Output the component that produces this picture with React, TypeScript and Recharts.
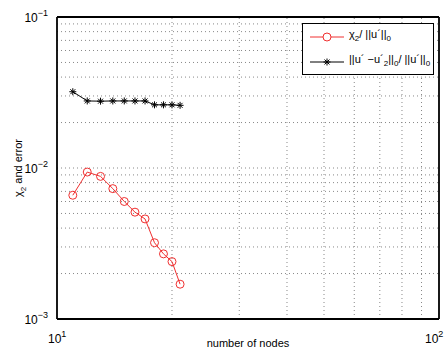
import { LineChart, Line, XAxis, YAxis, ReferenceLine } from 'recharts';

const nodes = [11, 12, 13, 14, 15, 16, 17, 18, 19, 20, 21];
const chiRatio = [0.0066, 0.0094, 0.0088, 0.0073, 0.006, 0.0051, 0.0046, 0.0032, 0.0027, 0.0024, 0.0017];
const errRatio = [0.032, 0.0278, 0.0277, 0.0278, 0.0278, 0.0278, 0.0278, 0.0262, 0.0262, 0.0262, 0.026];

const xTicks = [10, 100];
const yTicks = [0.001, 0.01, 0.1];
const xGrid = [20, 30, 40, 50, 60, 70, 80, 90];
const yGrid = [0.002, 0.003, 0.004, 0.005, 0.006, 0.007, 0.008, 0.009, 0.01, 0.02, 0.03, 0.04, 0.05, 0.06, 0.07, 0.08, 0.09];

const data = nodes.map((n, i) => ({ n, chi: chiRatio[i], err: errRatio[i] }));

const FONT = '"Liberation Sans", Arial, sans-serif';

const expOf = (v: number) => Math.round(Math.log10(v));

const XTick = ({ x, y, payload }: any) => (
  <text x={x - 9} y={y + 16} textAnchor="start" fontFamily={FONT} fontSize={12} fill="#000">
    <tspan>10</tspan>
    <tspan dy={-6} fontSize={9}>{expOf(payload.value)}</tspan>
  </text>
);

const YTick = ({ x, y, payload }: any) => {
  const e = expOf(payload.value);
  return (
    <text x={x - 1} y={y + 5} textAnchor="end" fontFamily={FONT} fontSize={12} fill="#000">
      <tspan>10</tspan>
      <tspan dy={-6} fontSize={9}>{e < 0 ? '\u2212' + Math.abs(e) : e}</tspan>
    </text>
  );
};

const Star = ({ cx, cy }: any) => {
  if (cx == null || cy == null) return null;
  const r = 3.5;
  const d = r * 0.707;
  return (
    <g stroke="#000" strokeWidth={1}>
      <line x1={cx - r} y1={cy} x2={cx + r} y2={cy} />
      <line x1={cx} y1={cy - r} x2={cx} y2={cy + r} />
      <line x1={cx - d} y1={cy - d} x2={cx + d} y2={cy + d} />
      <line x1={cx - d} y1={cy + d} x2={cx + d} y2={cy - d} />
    </g>
  );
};

const gridStyle = { stroke: '#888', strokeDasharray: '1 3', strokeWidth: 1 };

export default function App() {
  return (
    <div style={{ position: 'absolute', left: 0, top: 0, width: 446, height: 354, background: '#fff', overflow: 'hidden' }}>
      <LineChart width={446} height={354} data={data} margin={{ top: 17, right: 7, bottom: 0, left: 0 }}>
        <XAxis
          dataKey="n"
          type="number"
          scale="log"
          domain={[10, 100]}
          ticks={xTicks}
          tick={<XTick />}
          tickLine={false}
          axisLine={false}
          height={35}
          allowDataOverflow
        />
        <YAxis
          type="number"
          scale="log"
          domain={[0.001, 0.1]}
          ticks={yTicks}
          tick={<YTick />}
          tickLine={false}
          axisLine={false}
          width={57}
          allowDataOverflow
        />
        {xGrid.map((v) => (
          <ReferenceLine key={'vx' + v} x={v} {...gridStyle} />
        ))}
        {yGrid.map((v) => (
          <ReferenceLine key={'hy' + v} y={v} {...gridStyle} />
        ))}
        <ReferenceLine x={10} stroke="#000" strokeWidth={1.8} />
        <ReferenceLine x={100} stroke="#000" strokeWidth={1.8} />
        <ReferenceLine y={0.001} stroke="#000" strokeWidth={1.8} />
        <ReferenceLine y={0.1} stroke="#000" strokeWidth={1.8} />
        <Line
          dataKey="err"
          stroke="#000"
          strokeWidth={1}
          dot={<Star />}
          isAnimationActive={false}
        />
        <Line
          dataKey="chi"
          stroke="#f03030"
          strokeWidth={1}
          dot={{ r: 4, stroke: '#f03030', strokeWidth: 1, fill: 'none' }}
          isAnimationActive={false}
        />
      </LineChart>

      <div
        style={{
          position: 'absolute',
          left: 20,
          top: 168,
          transform: 'translate(-50%, -50%) rotate(-90deg)',
          fontFamily: FONT,
          fontSize: 11,
          whiteSpace: 'nowrap',
        }}
      >
        χ<sub style={{ fontSize: 8 }}>2</sub> and error
      </div>
      <div
        style={{
          position: 'absolute',
          left: 248,
          top: 343,
          transform: 'translate(-50%, -50%)',
          fontFamily: FONT,
          fontSize: 11,
          whiteSpace: 'nowrap',
        }}
      >
        number of nodes
      </div>

      <div
        style={{
          position: 'absolute',
          left: 302,
          top: 23,
          width: 130,
          height: 50,
          border: '1px solid #000',
          background: '#fff',
          fontFamily: FONT,
          fontSize: 11,
        }}
      >
        <svg width={44} height={50} style={{ position: 'absolute', left: 0, top: 0 }}>
          <line x1={7} y1={13} x2={41} y2={13} stroke="#f03030" />
          <circle cx={24} cy={13} r={4} stroke="#f03030" fill="#fff" />
          <line x1={7} y1={38} x2={41} y2={38} stroke="#000" />
          <Star cx={24} cy={38} />
        </svg>
        <div style={{ position: 'absolute', left: 46, top: 4, whiteSpace: 'nowrap' }}>
          χ<sub style={{ fontSize: 8 }}>2</sub>/ ||u´||<sub style={{ fontSize: 8 }}>0</sub>
        </div>
        <div style={{ position: 'absolute', left: 46, top: 29, whiteSpace: 'nowrap' }}>
          ||u´ −u´<sub style={{ fontSize: 8 }}>2</sub>||<sub style={{ fontSize: 8 }}>0</sub>/ ||u´||<sub style={{ fontSize: 8 }}>0</sub>
        </div>
      </div>
    </div>
  );
}
